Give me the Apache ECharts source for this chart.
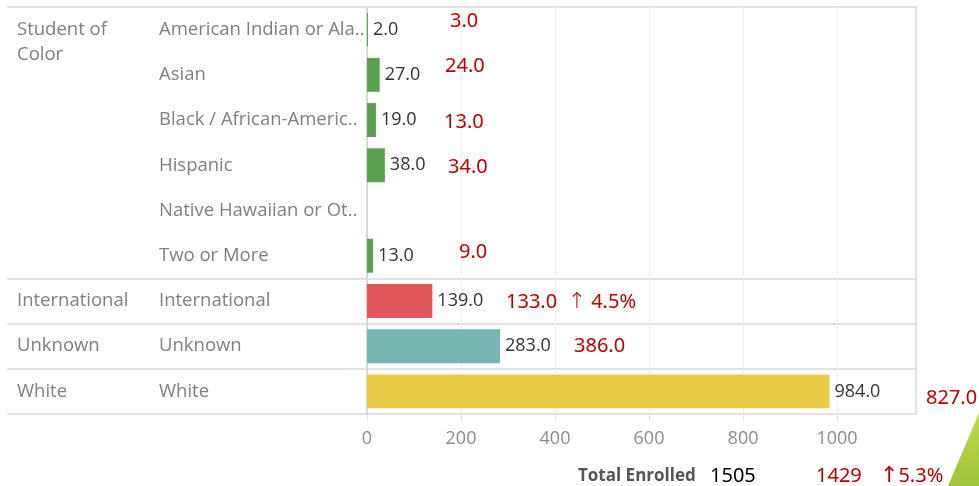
<!DOCTYPE html>
<html><head><meta charset="utf-8">
<script src="https://cdn.jsdelivr.net/npm/echarts@6/dist/echarts.min.js"></script>
<style>html,body{margin:0;padding:0;background:#fff}#c{width:979px;height:486px}</style>
</head><body><div id="c"></div>
<script>
// ---- data ----
const categories = ['American Indian or Ala..', 'Asian', 'Black / African-Americ..', 'Hispanic', 'Native Hawaiian or Ot..', 'Two or More', 'International', 'Unknown', 'White'];
const groups = ['Student of Color', 'Student of Color', 'Student of Color', 'Student of Color', 'Student of Color', 'Student of Color', 'International', 'Unknown', 'White'];
const currentValues = [2, 27, 19, 38, null, 13, 139, 283, 984];
const previousValues = [3, 24, 13, 34, null, 9, 133, 386, 827];
const changeShown = [false, false, false, false, false, false, true, false, false];
const xTicks = [0, 200, 400, 600, 800, 1000];

// ---- layout / style ----
const groupColors = { 'Student of Color': '#59a14f', 'International': '#e15759', 'Unknown': '#76b7b2', 'White': '#edc948' };
const wrappedGroupLabels = { 'Student of Color': '\nStudent of\nColor' };
const prevLabelOffsets = [[78, -8], [73, -9], [72, 2], [76, 2], [0, 0], [87, -3], [134, 1], [202, 0], [554, 7]];
const AX_MAX = 1168;
const RED = '#c00000';
const TAB_FONT = 'Open Sans';
const RED_FONT = 'Noto Sans';

const sum = a => a.reduce((s, v) => s + (v || 0), 0);
const totalNow = sum(currentValues);
const totalPrev = sum(previousValues);
const pct = (a, b) => ((a - b) / b * 100).toFixed(1) + '%';
const arrow = (a, b) => (a >= b ? '↑' : '↓');

const chart = echarts.init(document.getElementById('c'), null, { renderer: 'canvas' });

const prevData = previousValues.map((v, i) => ({
  value: v,
  label: { offset: prevLabelOffsets[i] }
}));

chart.setOption({
  animation: false,
  grid: [
    { left: 367, right: 63, top: 7, bottom: 72, containLabel: false, outerBoundsMode: 'none' },
    { left: 7, right: 63, top: 7, bottom: 72, containLabel: false, outerBoundsMode: 'none' }
  ],
  xAxis: [
    {
      gridIndex: 0, type: 'value', min: 0, max: AX_MAX, interval: 200,
      axisLine: { show: false },
      axisTick: { show: true, length: 8, lineStyle: { color: '#e6e6e6', width: 1 }, customValues: xTicks },
      axisLabel: { color: '#8c8c8c', fontSize: 18, fontFamily: TAB_FONT, margin: 16, customValues: xTicks, formatter: v => String(v) },
      splitLine: { show: true, lineStyle: { color: '#efefef', width: 1 } }
    },
    { gridIndex: 1, type: 'value', show: false, min: 0, max: 1 }
  ],
  yAxis: [
    {
      gridIndex: 0, type: 'category', data: categories, inverse: true, position: 'left',
      axisLine: { show: true, lineStyle: { color: '#cfcfcf', width: 1.5 } },
      axisTick: { show: false },
      axisLabel: { interval: 0, align: 'left', margin: 208, color: '#7f7f7f', fontSize: 18.5, fontFamily: TAB_FONT },
      splitLine: { show: false }
    },
    {
      gridIndex: 0, type: 'category', data: categories, inverse: true, position: 'left',
      axisLine: { show: false }, axisTick: { show: false },
      axisLabel: {
        interval: 0, align: 'left', margin: 350, color: '#7f7f7f', fontSize: 18.5, fontFamily: TAB_FONT, lineHeight: 25,
        formatter: (v, i) => {
          if (i > 0 && groups[i] === groups[i - 1]) return '';
          return wrappedGroupLabels[groups[i]] || groups[i];
        }
      },
      splitLine: { show: false }
    },
    {
      gridIndex: 1, type: 'category', data: categories, inverse: true, position: 'right',
      axisLine: { show: true, onZero: false, lineStyle: { color: '#d9d9d9', width: 1.5 } },
      axisTick: { show: false }, axisLabel: { show: false },
      splitLine: {
        show: true,
        interval: (i) => i === 0 || groups[i] !== groups[i - 1],
        lineStyle: { color: '#d9d9d9', width: 1.5 }
      }
    }
  ],
  series: [
    {
      type: 'bar', xAxisIndex: 0, yAxisIndex: 0,
      data: currentValues,
      barCategoryGap: '25%', barGap: '-100%',
      itemStyle: { color: p => groupColors[groups[p.dataIndex]] },
      label: {
        show: true, position: 'right', distance: 5,
        color: '#333', fontSize: 18, fontFamily: TAB_FONT,
        formatter: p => (p.value == null ? '' : Number(p.value).toFixed(1))
      },
      silent: true
    },
    {
      type: 'bar', xAxisIndex: 0, yAxisIndex: 0,
      data: prevData,
      barCategoryGap: '25%', barGap: '-100%',
      itemStyle: { color: 'rgba(0,0,0,0)' },
      label: {
        show: true, position: 'insideLeft', distance: 5,
        color: RED, fontSize: 20, fontFamily: RED_FONT,
        rich: { arr: { fontSize: 22, fontFamily: 'DejaVu Sans', color: RED, fontWeight: 'lighter' } },
        formatter: p => {
          const i = p.dataIndex;
          if (previousValues[i] == null) return '';
          let s = previousValues[i].toFixed(1);
          if (changeShown[i]) s += '  {arr|' + arrow(currentValues[i], previousValues[i]) + '} ' + pct(currentValues[i], previousValues[i]);
          return s;
        }
      },
      silent: true, z: 3
    }
  ],
  graphic: [
    {
      type: 'polygon', silent: true, z: 0,
      shape: { points: [[979, 413], [948, 486], [979, 486]] },
      style: { fill: new echarts.graphic.LinearGradient(0, 0, 0, 1, [{ offset: 0, color: '#bcd94e' }, { offset: 1, color: '#9ec53a' }]) }
    },
    { type: 'text', left: 578, top: 468, style: { text: 'Total Enrolled', font: 'bold 17px "Open Sans"', fill: '#555' } },
    { type: 'text', left: 710, top: 466, style: { text: String(totalNow), font: '20px "Noto Sans"', fill: '#000' } },
    { type: 'text', left: 816, top: 466, style: { text: String(totalPrev), font: '20px "Noto Sans"', fill: RED } },
    { type: 'text', left: 880, top: 465, style: { rich: { a: { font: '22px "DejaVu Sans"', fill: RED } }, text: '{a|' + arrow(totalNow, totalPrev) + '}' + pct(totalNow, totalPrev), font: '20px "Noto Sans"', fill: RED } }
  ]
});
</script>
</body></html>
